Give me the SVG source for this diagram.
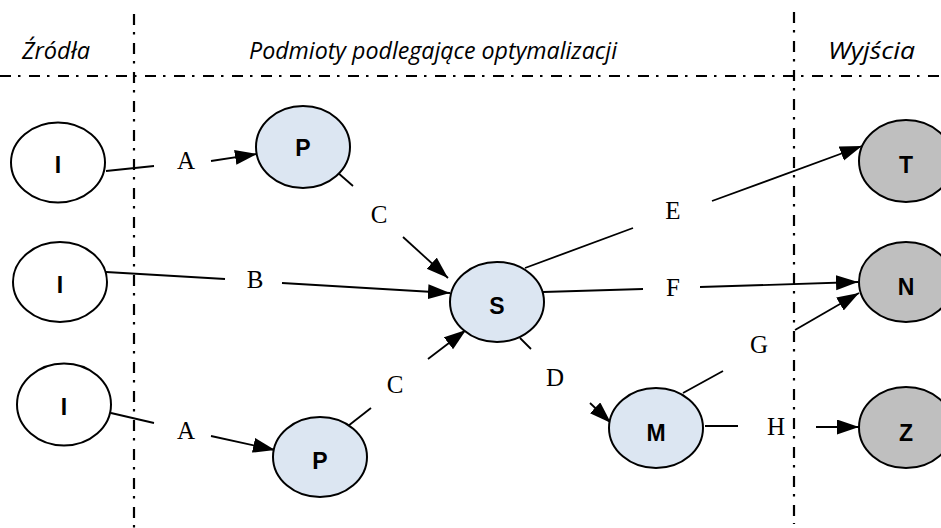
<svg xmlns="http://www.w3.org/2000/svg" width="941" height="528" viewBox="0 0 941 528">
  <style>
    .zone { fill: none; stroke: #000; stroke-width: 2.2; stroke-dasharray: 11 7 2.5 8.5; }
    .head { font-family: "Open Sans", "Liberation Sans", sans-serif; font-style: italic; font-size: 23px; fill: #000; }
    .node ellipse { stroke: #000; stroke-width: 2; }
    .src { fill: #fff; }
    .opt { fill: #DCE6F2; }
    .out { fill: #BFBFBF; }
    .node text { font-family: "Liberation Sans", Arial, sans-serif; font-weight: bold; font-size: 23px; text-anchor: middle; fill: #000; }
    .edge line { stroke: #000; stroke-width: 1.8; }
    .edge line.arrow { marker-end: url(#head); }
    .lbl { font-family: "Liberation Serif", "Times New Roman", serif; font-size: 25px; text-anchor: middle; fill: #000; }
  </style>
  <defs>
    <marker id="head" markerUnits="userSpaceOnUse" markerWidth="24" markerHeight="16" refX="22" refY="7.5" orient="auto">
      <path d="M0,0 L22,7.5 L0,15 z" fill="#000"/>
    </marker>
  </defs>

  <rect width="941" height="528" fill="#fff"/>

  <!-- zone separators -->
  <g id="zones">
    <line class="zone" x1="0" y1="76" x2="941" y2="76"/>
    <line class="zone" x1="134" y1="14" x2="134" y2="528"/>
    <line class="zone" x1="794" y1="12" x2="794" y2="524"/>
  </g>

  <!-- zone headings -->
  <g id="headings">
    <text class="head" x="22" y="59" textLength="68" lengthAdjust="spacingAndGlyphs">Źródła</text>
    <text class="head" x="249" y="59" textLength="368" lengthAdjust="spacingAndGlyphs">Podmioty podlegające optymalizacji</text>
    <text class="head" x="828" y="59" textLength="87" lengthAdjust="spacingAndGlyphs">Wyjścia</text>
  </g>

  <!-- connectors, each split around its label -->
  <g id="connectors" class="edge">
    <line x1="106" y1="171" x2="154" y2="166"/>
    <line class="arrow" x1="211" y1="161" x2="257" y2="154"/>

    <line x1="337" y1="172" x2="353" y2="186"/>
    <line class="arrow" x1="403" y1="237" x2="448" y2="278"/>

    <line x1="106" y1="272" x2="225" y2="279"/>
    <line class="arrow" x1="282" y1="283" x2="450" y2="293"/>

    <line x1="111" y1="413" x2="154" y2="423"/>
    <line class="arrow" x1="211" y1="436" x2="275" y2="450"/>

    <line x1="348" y1="426" x2="371" y2="408"/>
    <line class="arrow" x1="428" y1="359" x2="466" y2="330"/>

    <line x1="525" y1="268" x2="633" y2="228"/>
    <line class="arrow" x1="712" y1="201" x2="862" y2="146"/>

    <line x1="543" y1="292" x2="643" y2="289"/>
    <line class="arrow" x1="700" y1="287" x2="858" y2="282"/>

    <line x1="520" y1="338" x2="531" y2="349"/>
    <line class="arrow" x1="590" y1="403" x2="611" y2="423"/>

    <line x1="683" y1="393" x2="723" y2="371"/>
    <line class="arrow" x1="795" y1="330" x2="859" y2="293"/>

    <line x1="705" y1="426" x2="738" y2="426"/>
    <line class="arrow" x1="816" y1="427" x2="859" y2="427"/>

    <text class="lbl" x="186" y="169">A</text>
    <text class="lbl" x="379" y="223">C</text>
    <text class="lbl" x="255" y="288">B</text>
    <text class="lbl" x="186" y="439">A</text>
    <text class="lbl" x="395" y="393">C</text>
    <text class="lbl" x="673" y="219">E</text>
    <text class="lbl" x="673" y="296">F</text>
    <text class="lbl" x="555" y="386">D</text>
    <text class="lbl" x="759" y="353">G</text>
    <text class="lbl" x="776" y="435">H</text>
  </g>

  <!-- sources -->
  <g id="source-1" class="node"><ellipse class="src" cx="58" cy="162.5" rx="47" ry="40"/><text x="58" y="173">I</text></g>
  <g id="source-2" class="node"><ellipse class="src" cx="60" cy="282" rx="47" ry="40"/><text x="60" y="293">I</text></g>
  <g id="source-3" class="node"><ellipse class="src" cx="64" cy="404.5" rx="47" ry="41"/><text x="64" y="415">I</text></g>

  <!-- optimised entities -->
  <g id="producer-1" class="node"><ellipse class="opt" cx="303" cy="147" rx="47" ry="41"/><text x="303" y="156">P</text></g>
  <g id="producer-2" class="node"><ellipse class="opt" cx="320" cy="457" rx="47" ry="40"/><text x="320" y="469">P</text></g>
  <g id="store" class="node"><ellipse class="opt" cx="497" cy="302" rx="47" ry="40"/><text x="497" y="314">S</text></g>
  <g id="mill" class="node"><ellipse class="opt" cx="656" cy="428" rx="47" ry="40"/><text x="656" y="441">M</text></g>

  <!-- outputs -->
  <g id="output-t" class="node"><ellipse class="out" cx="906" cy="161" rx="47" ry="41"/><text x="906" y="173">T</text></g>
  <g id="output-n" class="node"><ellipse class="out" cx="906" cy="282" rx="47" ry="40"/><text x="906" y="295">N</text></g>
  <g id="output-z" class="node"><ellipse class="out" cx="906" cy="427.5" rx="47" ry="40.5"/><text x="906" y="441">Z</text></g>
</svg>
